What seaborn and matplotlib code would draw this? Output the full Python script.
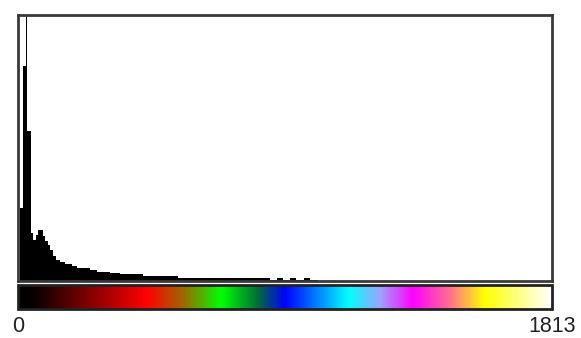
import numpy as np
import pandas as pd
import seaborn as sns
import matplotlib.pyplot as plt
from matplotlib.colors import LinearSegmentedColormap, Normalize
from matplotlib.cm import ScalarMappable

# histogram bins (value range 0 - 1813) and counts per bin
bin_edges = [0, 7, 17, 27, 31, 44, 51, 61, 68, 85, 92, 102, 109, 119, 129,
             143, 160, 183, 200, 244, 268, 312, 346, 424, 543, 832,
             855, 880, 900, 925, 945, 970, 990, 1018, 1813]
counts = [0, 73, 214, 400, 149, 48, 41, 46, 51, 45, 40, 36, 31, 25, 21,
          19, 17, 15, 13, 11, 9, 8, 7, 5, 2.5,
          3, 1, 3, 1, 3, 1, 3, 1, 0]
value_min, value_max = 0, 1813
tick_labels = ['0', '1813']

# lookup table shown under the histogram
lut_stops = [0.0, 0.03, 0.24, 0.31, 0.38, 0.45, 0.50, 0.56, 0.62, 0.68,
             0.74, 0.81, 0.875, 1.0]
lut_colors = ['#000000', '#0a0000', '#ff0000', '#9a6a00', '#00ff00', '#006a3a',
              '#0000ff', '#0080ff', '#00ffff', '#a0a0ff', '#ff00ff', '#ff6f8c',
              '#ffff00', '#ffffff']

sns.set_style('white')
plt.rcParams['font.family'] = ['Liberation Sans', 'DejaVu Sans']

centers = [(a + b) / 2 for a, b in zip(bin_edges[:-1], bin_edges[1:])]
df = pd.DataFrame({'value': centers, 'count': counts})

fig = plt.figure(figsize=(5.81, 3.38), dpi=100)
ax = fig.add_axes([18 / 581, 57 / 338, 534 / 581, 266 / 338])
sns.histplot(data=df, x='value', weights='count', bins=bin_edges,
             color='black', alpha=1, linewidth=0, ax=ax)
ax.set_xlim(value_min, value_max)
ax.set_ylim(0, 265)
ax.set_xticks([])
ax.set_yticks([])
ax.set_xlabel('')
ax.set_ylabel('')
for s in ax.spines.values():
    s.set_visible(True)
    s.set_linewidth(2)
    s.set_color('#3a3a3a')

cmap = LinearSegmentedColormap.from_list('lut', list(zip(lut_stops, lut_colors)))
cax = fig.add_axes([18 / 581, 29 / 338, 534 / 581, 24 / 338])
cb = fig.colorbar(ScalarMappable(norm=Normalize(value_min, value_max), cmap=cmap),
                  cax=cax, orientation='horizontal')
cb.set_ticks([value_min, value_max])
cb.set_ticklabels(tick_labels)
cb.ax.tick_params(length=0, labelsize=15.5, pad=5, colors='#222222')
cb.outline.set_linewidth(2)
cb.outline.set_edgecolor('#222222')

fig.savefig('out.png', dpi=100)
